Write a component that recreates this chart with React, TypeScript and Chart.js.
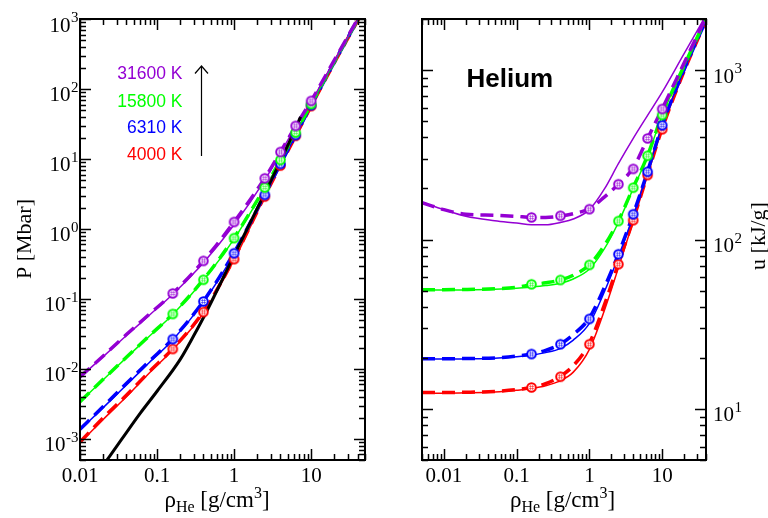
import React, { useEffect, useRef } from 'react';
import { Chart, registerables } from 'chart.js';
Chart.register(...registerables);

const VIOLET = '#9400d3';
const GREEN = '#00ff00';
const BLUE = '#0000ff';
const RED = '#ff0000';
const BLACK = '#000000';

// ---------- Left panel: pressure P [Mbar] vs density ----------
const rhoLineL = [0.01, 0.02, 0.04, 0.08, 0.16, 0.4, 1, 2.5, 4, 6.3, 10, 20, 50];
const pRedSolid = [0.00088, 0.0019, 0.0040, 0.0088, 0.0188, 0.063, 0.36, 2.9, 8.0, 21, 56, 235, 1450];
const pRedDash = [0.0009, 0.002, 0.0042, 0.0092, 0.0195, 0.066, 0.38, 2.95, 8.1, 21.5, 57, 237, 1460];
const pBlueSolid = [0.00134, 0.0028, 0.0059, 0.0125, 0.026, 0.09, 0.44, 3.05, 8.4, 21.8, 58, 240, 1480];
const pBlueDash = [0.00138, 0.0029, 0.0062, 0.013, 0.027, 0.093, 0.46, 3.1, 8.5, 22, 58.5, 242, 1490];
const pGreenSolid = [0.0034, 0.007, 0.0145, 0.0295, 0.06, 0.185, 0.72, 3.8, 9.5, 23.5, 60, 245, 1500];
const pGreenDash = [0.0034, 0.0071, 0.0147, 0.03, 0.061, 0.19, 0.75, 3.9, 9.7, 24, 61, 246, 1500];
const pVioletSolid = [0.0076, 0.015, 0.03, 0.059, 0.117, 0.33, 1.15, 5.0, 12.2, 29, 66, 255, 1520];
const pVioletDash = [0.0077, 0.0153, 0.031, 0.061, 0.12, 0.35, 1.26, 5.3, 12.6, 29.7, 67.5, 258, 1530];

const rhoMarkers = [0.16, 0.4, 1, 2.5, 4, 6.3, 10];
const pRedMarks = [0.0193, 0.065, 0.37, 2.9, 8.05, 21.4, 57];
const pBlueMarks = [0.0267, 0.092, 0.45, 3.07, 8.5, 22, 58.6];
const pGreenMarks = [0.061, 0.188, 0.74, 3.9, 9.7, 23.8, 61];
const pVioletMarks = [0.12, 0.35, 1.26, 5.3, 12.6, 29.7, 67.5];

const rhoBlack = [0.02, 0.035, 0.06, 0.1, 0.2, 0.3, 0.42, 1, 2.5, 4, 7.3];
const pBlack = [0.00042, 0.001, 0.0023, 0.0048, 0.0137, 0.03, 0.06, 0.42, 3.25, 9.3, 40];

// ---------- Right panel: internal energy u [kJ/g] vs density ----------
const rhoLineR = [0.005, 0.01, 0.02, 0.05, 0.1, 0.16, 0.25, 0.4, 0.6, 1, 1.6, 2.5, 4, 6.3, 10, 20, 40];
const uRedSolid = [12.4, 12.4, 12.45, 12.6, 12.9, 13.2, 13.7, 14.7, 16.5, 22.5, 38, 68, 128, 240, 450, 980, 1950];
const uRedDash = [12.5, 12.5, 12.55, 12.7, 13.0, 13.4, 14.1, 15.6, 18, 24.5, 41, 72, 131, 243, 452, 985, 1960];
const uBlueSolid = [19.7, 19.7, 19.75, 19.9, 20.3, 20.8, 21.5, 22.8, 25.5, 32, 49, 79, 138, 250, 470, 1000, 1960];
const uBlueDash = [19.8, 19.8, 19.85, 20, 20.5, 21.1, 22.2, 24.2, 27.5, 34.5, 52, 82, 141, 252, 472, 1005, 1970];
const uGreenSolid = [50.3, 50.3, 50.4, 50.8, 51.5, 52.4, 53.5, 55.2, 58.5, 67, 88, 126, 200, 310, 540, 1050, 2000];
const uGreenDash = [50.6, 50.6, 50.7, 51.2, 52.2, 54.2, 55.5, 57.7, 61.5, 71, 92, 129, 203, 313, 545, 1060, 2010];
const uVioletSolid = [166, 150, 137, 129, 125, 122, 122, 126, 132, 150, 198, 280, 395, 540, 740, 1250, 2100];
const uVioletDash = [165, 150, 141, 139, 137, 135, 135, 137.5, 142, 152, 178, 212, 265, 395, 590, 1100, 2050];

const uRedMarks = [13.4, 15.5, 24.1, 71.5, 130, 240, 447];
const uBlueMarks = [21.1, 24.1, 34, 81.9, 141, 251, 472];
const uGreenMarks = [54.4, 57.7, 70.8, 128.5, 202, 312, 543];
const uVioletMarks = [135, 138, 151, 212, 261, 395, 589];

// ---------- Axis ticks / labels ----------
const leftXRange = [0.01, 50];
const leftYRange = [5e-4, 1000];
const rightXRange = [0.005, 40];
const rightYRange = [5, 2000];
const xTickValues = [0.01, 0.1, 1, 10];
const xTickLabels = ['0.01', '0.1', '1', '10'];
const leftYExponents = [-3, -2, -1, 0, 1, 2, 3];
const rightYExponents = [1, 2, 3];

const legendLabels = ['31600 K', '15800 K', '6310 K', '4000 K'];
const legendColors = [VIOLET, GREEN, BLUE, RED];

const SERIF = '"Liberation Serif", "DejaVu Serif", serif';
const SANS = '"Liberation Sans", Arial, sans-serif';

function makeMarker(color: string) {
  const c = document.createElement('canvas');
  c.width = 13;
  c.height = 13;
  const g = c.getContext('2d')!;
  g.beginPath();
  g.arc(6.5, 6.5, 4.3, 0, Math.PI * 2);
  g.fillStyle = '#ffffff';
  g.fill();
  g.lineWidth = 2;
  g.strokeStyle = color;
  g.stroke();
  g.globalAlpha = 0.6;
  g.lineWidth = 0.9;
  g.beginPath();
  g.moveTo(5.4, 4); g.lineTo(5.4, 9);
  g.moveTo(7.6, 4); g.lineTo(7.6, 9);
  g.moveTo(4, 5.4); g.lineTo(9, 5.4);
  g.moveTo(4, 7.6); g.lineTo(9, 7.6);
  g.stroke();
  return c;
}

const pts = (xs: number[], ys: number[]) => xs.map((x, i) => ({ x, y: ys[i] }));

const lineDs = (xs: number[], ys: number[], color: string, dashed: boolean, width?: number) => ({
  data: pts(xs, ys),
  borderColor: color,
  backgroundColor: color,
  borderWidth: width ?? (dashed ? 3.5 : 1.5),
  borderDash: dashed ? [13, 7] : [],
  pointRadius: 0,
  fill: false,
  showLine: true,
  cubicInterpolationMode: 'monotone',
});

const markDs = (xs: number[], ys: number[], color: string) => ({
  data: pts(xs, ys),
  showLine: false,
  pointStyle: makeMarker(color),
  pointRadius: 5,
  borderColor: color,
  backgroundColor: '#ffffff',
});

function logTicks(min: number, max: number) {
  const out: { v: number; major: boolean }[] = [];
  for (let d = Math.floor(Math.log10(min)) - 1; d <= Math.ceil(Math.log10(max)); d++) {
    for (let m = 1; m <= 9; m++) {
      const v = m * Math.pow(10, d);
      if (v >= min * 0.9999 && v <= max * 1.0001) out.push({ v, major: m === 1 });
    }
  }
  return out;
}

function drawXTitle(ctx: CanvasRenderingContext2D, cx: number, base: number) {
  const main = `23px ${SERIF}`;
  const small = `16px ${SERIF}`;
  const parts: [string, string, number][] = [
    ['ρ', main, 0],
    ['He', small, 5],
    [' [g/cm', main, 0],
    ['3', small, -9],
    [']', main, 0],
  ];
  let total = 0;
  const widths = parts.map(([t, f]) => {
    ctx.font = f;
    const w = ctx.measureText(t).width;
    total += w;
    return w;
  });
  let x = cx - total / 2;
  ctx.textAlign = 'left';
  ctx.textBaseline = 'alphabetic';
  parts.forEach(([t, f, dy], i) => {
    ctx.font = f;
    ctx.fillText(t, x, base + dy);
    x += widths[i];
  });
}

function drawPow(ctx: CanvasRenderingContext2D, exp: number, x: number, py: number, align: 'left' | 'right') {
  const main = `21px ${SERIF}`;
  const small = `15px ${SERIF}`;
  const e = exp < 0 ? '-' + Math.abs(exp) : String(exp);
  ctx.font = main;
  const mw = ctx.measureText('10').width;
  ctx.font = small;
  const sw = ctx.measureText(e).width;
  const start = align === 'right' ? x - sw - mw - 0.5 : x;
  ctx.textAlign = 'left';
  ctx.textBaseline = 'alphabetic';
  ctx.font = main;
  ctx.fillText('10', start, py + 12.5);
  ctx.font = small;
  ctx.fillText(e, start + mw + 0.5, py + 3);
}

function framePlugin(side: 'left' | 'right') {
  return {
    id: 'frame' + side,
    afterDraw(chart: any) {
      const ctx: CanvasRenderingContext2D = chart.ctx;
      const a = chart.chartArea;
      const xs = chart.scales.x;
      const ys = chart.scales.y;
      ctx.save();
      ctx.strokeStyle = BLACK;
      ctx.fillStyle = BLACK;
      ctx.lineWidth = 1.5;
      ctx.beginPath();
      for (const t of logTicks(xs.min, xs.max)) {
        const px = Math.round(xs.getPixelForValue(t.v)) + 0.5;
        const len = t.major ? 11 : 6;
        ctx.moveTo(px, a.bottom); ctx.lineTo(px, a.bottom - len);
        ctx.moveTo(px, a.top); ctx.lineTo(px, a.top + len);
      }
      for (const t of logTicks(ys.min, ys.max)) {
        const py = Math.round(ys.getPixelForValue(t.v)) + 0.5;
        const len = t.major ? 11 : 6;
        ctx.moveTo(a.left, py); ctx.lineTo(a.left + len, py);
        ctx.moveTo(a.right, py); ctx.lineTo(a.right - len, py);
      }
      ctx.stroke();
      ctx.lineWidth = 2;
      ctx.strokeRect(a.left, a.top, a.right - a.left, a.bottom - a.top);

      // x tick labels
      ctx.font = `21px ${SERIF}`;
      ctx.textAlign = 'center';
      ctx.textBaseline = 'alphabetic';
      xTickValues.forEach((v, i) => {
        ctx.fillText(xTickLabels[i], xs.getPixelForValue(v), 482);
      });

      if (side === 'left') {
        leftYExponents.forEach((e) => {
          drawPow(ctx, e, 78.5, ys.getPixelForValue(Math.pow(10, e)), 'right');
        });
        drawXTitle(ctx, 217, 507);
        ctx.save();
        ctx.translate(25, 239);
        ctx.rotate(-Math.PI / 2);
        ctx.font = `22px ${SERIF}`;
        ctx.textAlign = 'center';
        ctx.textBaseline = 'middle';
        ctx.fillText('P [Mbar]', 0, 0);
        ctx.restore();

        // legend texts
        ctx.font = `17.5px ${SANS}`;
        ctx.textAlign = 'right';
        ctx.textBaseline = 'alphabetic';
        const bases = [79, 106.5, 132.7, 160];
        legendLabels.forEach((l, i) => {
          ctx.fillStyle = legendColors[i];
          ctx.fillText(l, 182.5, bases[i]);
        });
        // arrow
        ctx.strokeStyle = BLACK;
        ctx.lineWidth = 1.2;
        ctx.beginPath();
        ctx.moveTo(201.5, 156);
        ctx.lineTo(201.5, 66);
        ctx.moveTo(195, 73.5);
        ctx.lineTo(201.5, 66);
        ctx.lineTo(208, 73.5);
        ctx.stroke();
      } else {
        rightYExponents.forEach((e) => {
          drawPow(ctx, e, 329, ys.getPixelForValue(Math.pow(10, e)), 'left');
        });
        drawXTitle(ctx, 178.5, 507);
        ctx.save();
        ctx.translate(375, 236);
        ctx.rotate(-Math.PI / 2);
        ctx.font = `22px ${SERIF}`;
        ctx.textAlign = 'center';
        ctx.textBaseline = 'middle';
        ctx.fillText('u [kJ/g]', 0, 0);
        ctx.restore();

        ctx.font = `bold 26px ${SANS}`;
        ctx.textAlign = 'left';
        ctx.textBaseline = 'alphabetic';
        ctx.fillText('Helium', 82.5, 86.5);
      }
      ctx.restore();
    },
  };
}

function baseOptions(pad: any, xr: number[], yr: number[]) {
  return {
    responsive: false,
    animation: false,
    devicePixelRatio: 1,
    events: [],
    layout: { padding: pad },
    plugins: { legend: { display: false }, tooltip: { enabled: false } },
    scales: {
      x: { type: 'logarithmic', min: xr[0], max: xr[1], display: false },
      y: { type: 'logarithmic', min: yr[0], max: yr[1], display: false },
    },
  };
}

export default function App() {
  const leftRef = useRef<HTMLCanvasElement>(null);
  const rightRef = useRef<HTMLCanvasElement>(null);

  useEffect(() => {
    const left = new Chart(leftRef.current!, {
      type: 'line',
      data: {
        datasets: [
          markDs(rhoMarkers, pVioletMarks, VIOLET),
          markDs(rhoMarkers, pGreenMarks, GREEN),
          markDs(rhoMarkers, pBlueMarks, BLUE),
          markDs(rhoMarkers, pRedMarks, RED),
          lineDs(rhoBlack, pBlack, BLACK, false, 3),
          lineDs(rhoLineL, pVioletDash, VIOLET, true),
          lineDs(rhoLineL, pVioletSolid, VIOLET, false),
          lineDs(rhoLineL, pGreenDash, GREEN, true),
          lineDs(rhoLineL, pGreenSolid, GREEN, false),
          lineDs(rhoLineL, pBlueDash, BLUE, true),
          lineDs(rhoLineL, pBlueSolid, BLUE, false),
          lineDs(rhoLineL, pRedDash, RED, true),
          lineDs(rhoLineL, pRedSolid, RED, false),
        ] as any,
      },
      options: baseOptions({ left: 80, right: 19, top: 19, bottom: 58 }, leftXRange, leftYRange) as any,
      plugins: [framePlugin('left')],
    });
    const right = new Chart(rightRef.current!, {
      type: 'line',
      data: {
        datasets: [
          markDs(rhoMarkers, uVioletMarks, VIOLET),
          markDs(rhoMarkers, uGreenMarks, GREEN),
          markDs(rhoMarkers, uBlueMarks, BLUE),
          markDs(rhoMarkers, uRedMarks, RED),
          lineDs(rhoLineR, uVioletDash, VIOLET, true),
          lineDs(rhoLineR, uVioletSolid, VIOLET, false),
          lineDs(rhoLineR, uGreenDash, GREEN, true),
          lineDs(rhoLineR, uGreenSolid, GREEN, false),
          lineDs(rhoLineR, uBlueDash, BLUE, true),
          lineDs(rhoLineR, uBlueSolid, BLUE, false),
          lineDs(rhoLineR, uRedDash, RED, true),
          lineDs(rhoLineR, uRedSolid, RED, false),
        ] as any,
      },
      options: baseOptions({ left: 38, right: 62, top: 19, bottom: 58 }, rightXRange, rightYRange) as any,
      plugins: [framePlugin('right')],
    });
    return () => {
      left.destroy();
      right.destroy();
    };
  }, []);

  return (
    <div style={{ position: 'absolute', left: 0, top: 0, width: 768, height: 518, background: '#fff' }}>
      <canvas ref={leftRef} width={384} height={518} style={{ position: 'absolute', left: 0, top: 0, width: 384, height: 518 }} />
      <canvas ref={rightRef} width={384} height={518} style={{ position: 'absolute', left: 384, top: 0, width: 384, height: 518 }} />
    </div>
  );
}
